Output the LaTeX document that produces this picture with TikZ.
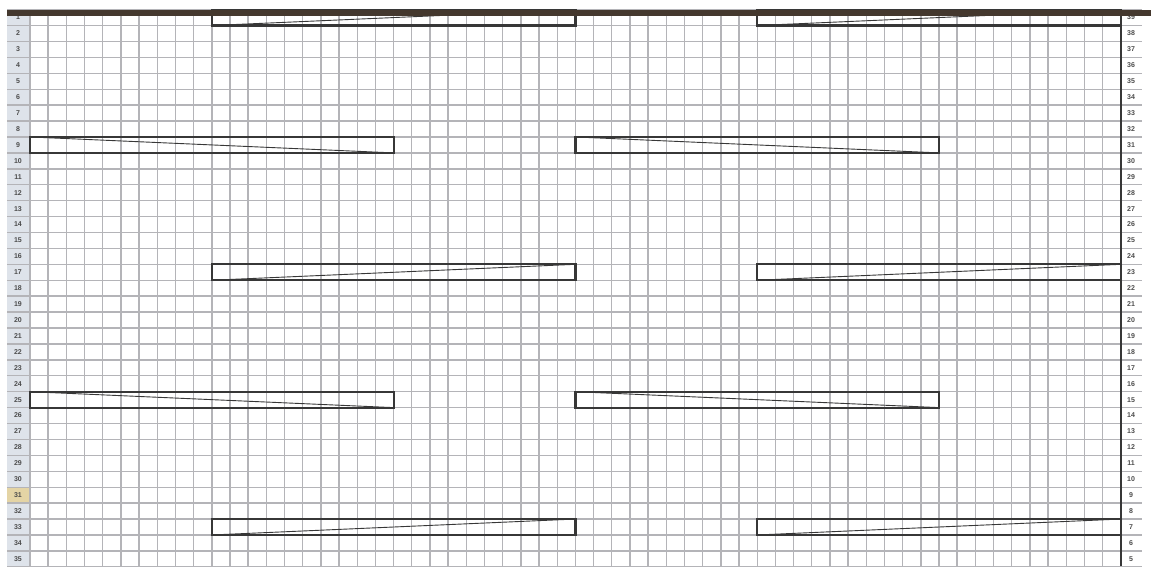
\documentclass[tikz,border=0pt]{standalone}
\usepackage{fontspec}
\setmainfont{Liberation Sans}
\definecolor{gridc}{RGB}{180,180,184}
\definecolor{hdrc}{RGB}{222,227,234}
\definecolor{selc}{RGB}{228,212,165}
\definecolor{bandc}{RGB}{68,56,46}
\definecolor{boxc}{RGB}{55,55,55}
\tikzset{
  gridline/.style={draw=gridc, line width=1.4pt},
  barbox/.style={draw=boxc, line width=2.2pt, inner sep=0pt, outer sep=0pt, rectangle},
  wedge/.style={draw=boxc, line width=0.9pt},
  rowlab/.style={font=\fontsize{7}{8}\selectfont\bfseries, text=black!70, inner sep=0pt},
}
\begin{document}
\begin{tikzpicture}[x=1pt,y=-1pt]
\useasboundingbox (0,0) rectangle (1151,566);
\fill[white] (0,0) rectangle (1151,566);
\def\xo{30}\def\yo{9.6}\def\cw{18.18}\def\rh{15.92}
% header column
\fill[hdrc] (7,\yo) rectangle (\xo,566);
\fill[selc] (7,{\yo+30*\rh}) rectangle (\xo,{\yo+31*\rh});
% grid
\foreach \c in {0,...,60} \draw[gridline] ({\xo+\c*\cw},\yo) -- ({\xo+\c*\cw},566);
\foreach \r in {0,...,35} \draw[gridline] (7,{\yo+\r*\rh}) -- (1121,{\yo+\r*\rh});
\foreach \r in {0,...,35} \draw[gridline] (1121,{\yo+\r*\rh}) -- (1142,{\yo+\r*\rh});
\draw[gridc, line width=1.8pt] (\xo,\yo) -- (\xo,566);
\draw[boxc, line width=2.2pt] (1121,\yo) -- (1121,566);
% row labels
\foreach \r in {1,...,35} {
  \pgfmathtruncatemacro{\rr}{40-\r}
  \node[rowlab] (L\r) at (18,{\yo+(\r-0.5)*\rh}) {\r};
  \node[rowlab] (R\r) at (1131,{\yo+(\r-0.5)*\rh}) {\rr};
}
% bars rising (bottom-left to top-right)
\foreach \r in {1,17,33} {
  \foreach \c/\n in {10/a,40/b} {
    \node[barbox, minimum width={20*\cw*1pt}, minimum height={\rh*1pt}, anchor=north west]
      (B\r\n) at ({\xo+\c*\cw},{\yo+(\r-1)*\rh}) {};
    \draw[wedge] (B\r\n.south west) -- (B\r\n.north east);
  }
}
% bars falling (top-left to bottom-right)
\foreach \r in {9,25} {
  \foreach \c/\n in {0/a,30/b} {
    \node[barbox, minimum width={20*\cw*1pt}, minimum height={\rh*1pt}, anchor=north west]
      (B\r\n) at ({\xo+\c*\cw},{\yo+(\r-1)*\rh}) {};
    \draw[wedge] (B\r\n.north west) -- (B\r\n.south east);
  }
}
% top dark band
\fill[bandc] (7,\yo) rectangle (1151,16);
\end{tikzpicture}
\end{document}
